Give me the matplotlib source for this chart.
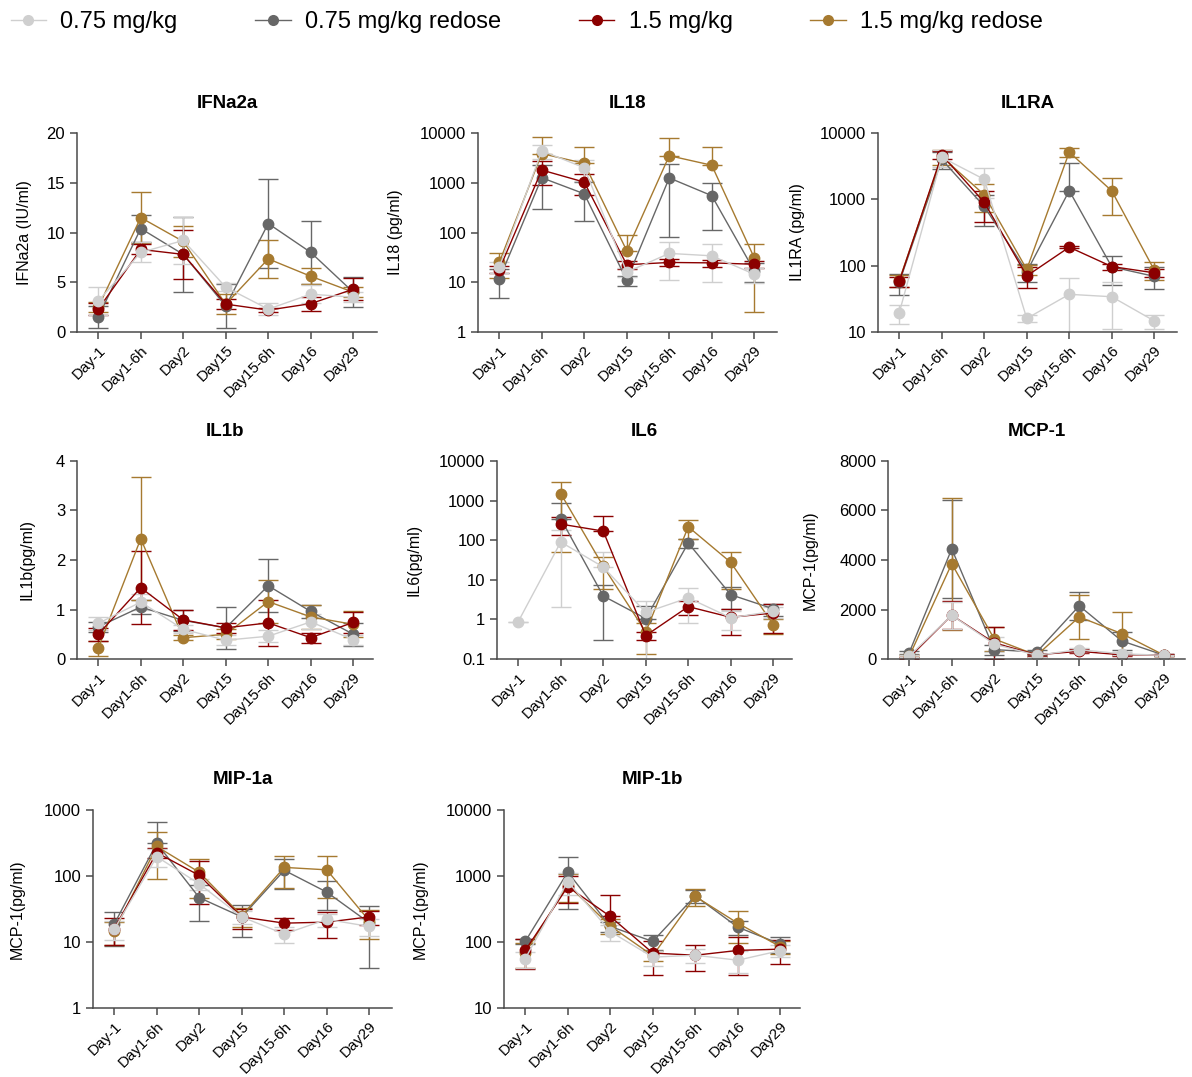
import numpy as np
import matplotlib
matplotlib.use("Agg")
import matplotlib.pyplot as plt
from matplotlib.lines import Line2D
from matplotlib.ticker import FixedLocator, NullLocator

plt.rcParams['font.family'] = ['Liberation Sans', 'DejaVu Sans']

days = ["Day-1", "Day1-6h", "Day2", "Day15", "Day15-6h", "Day16", "Day29"]
groups = ["0.75 mg/kg", "0.75 mg/kg redose", "1.5 mg/kg", "1.5 mg/kg redose"]
colors = ["#cfcfcf", "#676767", "#8b0000", "#a67a30"]
nan = np.nan

# mean / sd per group: [0.75, 0.75 redose, 1.5, 1.5 redose]
ifna2a_mean = [[3.1, 8.0, 9.2, 4.5, 2.3, 3.8, 3.5],
               [1.5, 10.4, 7.8, 2.6, 10.9, 8.0, 4.0],
               [2.3, 8.3, 7.8, 2.8, 2.2, 2.85, 4.3],
               [2.5, 11.5, 9.1, 2.8, 7.35, 5.6, 4.0]]
ifna2a_sd = [[1.4, 1.0, 2.4, 0.4, 0.6, 0.9, 0.5],
             [1.1, 1.4, 3.8, 2.2, 4.5, 3.2, 1.5],
             [0.6, 0.5, 2.5, 0.5, 0.2, 0.7, 1.1],
             [0.5, 2.6, 1.6, 1.0, 1.9, 0.8, 0.5]]

il18_mean = [[20, 4400, 2000, 16, 38, 34, 14.5],
             [11.5, 1260, 600, 11, 1250, 550, 17],
             [18, 1800, 1030, 22.5, 25, 24.5, 23],
             [25, 3850, 2450, 43, 3500, 2250, 31]]
il18_sd = [[5, 1400, 900, 3, 27, 24, 5],
           [6.7, 970, 430, 2.5, 1170, 440, 7],
           [3, 900, 450, 4, 4, 4, 4],
           [13, 4650, 2750, 45, 4300, 2950, 28.5]]

il1ra_mean = [[19.5, 4300, 2000, 16, 37, 34, 14.7],
              [56, 4000, 780, 81, 1350, 96, 69],
              [58, 4700, 900, 70, 190, 97, 78],
              [60, 4400, 1170, 88, 5150, 1340, 86]]
il1ra_sd = [[6.3, 1200, 950, 2, 28, 23, 3.5],
            [20, 1100, 380, 25, 2150, 45, 25],
            [10, 600, 450, 24, 5, 10, 10],
            [12, 1100, 530, 15, 800, 760, 26]]

il1b_mean = [[0.72, 1.15, 0.6, 0.38, 0.46, 0.75, 0.39],
             [0.65, 1.05, 0.78, 0.63, 1.48, 0.96, 0.5],
             [0.5, 1.44, 0.79, 0.63, 0.73, 0.43, 0.74],
             [0.22, 2.43, 0.43, 0.5, 1.16, 0.85, 0.7]]
il1b_sd = [[0.13, 0.17, 0.08, 0.1, 0.12, 0.15, 0.1],
           [0.1, 0.15, 0.22, 0.42, 0.54, 0.14, 0.23],
           [0.13, 0.74, 0.2, 0.1, 0.46, 0.1, 0.21],
           [0.15, 1.24, 0.05, 0.1, 0.44, 0.25, 0.26]]

il6_mean = [[0.88, 90, 21, 1.5, 3.5, 1.1, 1.6],
            [nan, 350, 3.9, 1.05, 85, 4.2, 1.85],
            [nan, 255, 170, 0.39, 2.1, 1.13, 1.45],
            [nan, 1500, 22, 0.48, 218, 27.5, 0.74]]
il6_sd = [[0, 88, 30, 1.4, 2.7, 0.55, 0.5],
          [nan, 500, 3.6, 1.1, 20, 2.4, 0.6],
          [nan, 120, 245, 0.08, 0.8, 0.73, 1.0],
          [nan, 1450, 16, 0.35, 110, 21.5, 0.3]]

mcp1_mean = [[120, 1770, 600, 150, 380, 210, 150],
             [260, 4450, 380, 280, 2150, 730, 150],
             [60, 1770, 650, 170, 310, 170, 170],
             [110, 3850, 810, 150, 1700, 1025, 150]]
mcp1_sd = [[50, 550, 300, 80, 80, 60, 30],
           [60, 1970, 200, 100, 560, 350, 40],
           [40, 560, 640, 50, 80, 40, 30],
           [40, 2670, 490, 60, 880, 875, 30]]

mip1a_mean = [[15.7, 196, 76, 24, 13.2, 22, 17.2],
              [18.7, 313, 47, 24, 122, 57, 19.5],
              [16, 226, 102, 24, 19.3, 20, 24],
              [14.5, 280, 114, 25, 135, 124, 21]]
mip1a_sd = [[5, 60, 15, 5, 3.6, 5, 5],
            [10, 335, 26, 12, 58, 26, 15.5],
            [7, 40, 65, 8, 4, 8.6, 6],
            [5.5, 190, 68, 8, 69, 77, 10]]

mip1b_mean = [[56, 824, 144, 59, 63, 53, 74],
              [102, 1145, 172, 102, 500, 168, 93],
              [74.5, 690, 244, 68, 63, 74.5, 78],
              [68, 736, 175, 62, 490, 193, 85]]
mip1b_sd = [[15, 300, 40, 15, 15, 19, 15],
            [10, 825, 30, 26, 116, 40, 24],
            [35, 300, 273, 36, 27, 43, 31],
            [28, 330, 45, 10, 135, 97, 20]]

panels = [
    ("IFNa2a", "IFNa2a (IU/ml)", ifna2a_mean, ifna2a_sd, "linear", (0, 20), [0, 5, 10, 15, 20]),
    ("IL18", "IL18 (pg/ml)", il18_mean, il18_sd, "log", (1, 10000), [1, 10, 100, 1000, 10000]),
    ("IL1RA", "IL1RA (pg/ml)", il1ra_mean, il1ra_sd, "log", (10, 10000), [10, 100, 1000, 10000]),
    ("IL1b", "IL1b(pg/ml)", il1b_mean, il1b_sd, "linear", (0, 4), [0, 1, 2, 3, 4]),
    ("IL6", "IL6(pg/ml)", il6_mean, il6_sd, "log", (0.1, 10000), [0.1, 1, 10, 100, 1000, 10000]),
    ("MCP-1", "MCP-1(pg/ml)", mcp1_mean, mcp1_sd, "linear", (0, 8000), [0, 2000, 4000, 6000, 8000]),
    ("MIP-1a", "MCP-1(pg/ml)", mip1a_mean, mip1a_sd, "log", (1, 1000), [1, 10, 100, 1000]),
    ("MIP-1b", "MCP-1(pg/ml)", mip1b_mean, mip1b_sd, "log", (10, 10000), [10, 100, 1000, 10000]),
]

# axes boxes in pixels: left, top, right, bottom ; ylabel x in axes fraction
boxes = [(77, 133, 377, 332, -0.15), (478, 133, 777, 332, -0.25), (878, 133, 1177, 332, -0.245),
         (77, 461, 373, 659, -0.145), (497, 461, 792, 659, -0.255), (888, 461, 1185, 659, -0.237),
         (93, 810, 392, 1008, -0.228), (504, 810, 800, 1008, -0.257)]

W, H = 1192, 1077
fig = plt.figure(figsize=(W / 100, H / 100), dpi=100)
spine_c = "#4a4a4a"
draw_order = [1, 3, 2, 0]
x = np.arange(len(days))

for (title, ylab, mean, sd, scale, ylim, yticks), (l, t, r, b, ylx) in zip(panels, boxes):
    ax = fig.add_axes([l / W, 1 - b / H, (r - l) / W, (b - t) / H])
    for g in draw_order:
        m = np.array(mean[g], dtype=float)
        s = np.array(sd[g], dtype=float)
        lo = s.copy()
        if scale == "log":
            lo = np.where(m - s <= 0, 0, s)
        ax.errorbar(x, m, yerr=[lo, s], fmt='-o', color=colors[g], ecolor=colors[g],
                    lw=1.0, elinewidth=1.0, capsize=7, capthick=1.0, markersize=7.5,
                    markeredgecolor=colors[g], markerfacecolor=colors[g])
    ax.set_yscale(scale)
    ax.set_ylim(*ylim)
    ax.set_xlim(-0.5, -0.5 + (r - l) / 42.5)
    ax.yaxis.set_major_locator(FixedLocator(yticks))
    ax.yaxis.set_minor_locator(NullLocator())
    ax.set_yticklabels([f"{v:g}" for v in yticks])
    ax.set_xticks(x)
    ax.set_xticklabels(days, rotation=45, ha='right', rotation_mode='anchor')
    for sp in ['top', 'right']:
        ax.spines[sp].set_visible(False)
    for sp in ['left', 'bottom']:
        ax.spines[sp].set_color(spine_c)
        ax.spines[sp].set_linewidth(1.1)
    ax.tick_params(axis='both', colors=spine_c, labelcolor='black',
                   length=5, width=1.1, direction='out')
    ax.tick_params(axis='y', labelsize=12)
    ax.tick_params(axis='x', labelsize=11, pad=3)
    ax.set_ylabel(ylab, fontsize=11.5)
    ax.yaxis.set_label_coords(ylx, 0.5)
    ax.text(0.5, 1 + 30 / (b - t), title, transform=ax.transAxes, ha='center', va='center',
            fontsize=13.5, fontweight='bold')

handles = [Line2D([0], [0], color=c, lw=1.0, marker='o', markersize=8, markeredgewidth=0)
           for c in colors]
fig.legend(handles, groups, loc='upper left', bbox_to_anchor=(-0.003, 1.003), ncol=4,
           frameon=False, fontsize=17, handlelength=1.5, handletextpad=0.6,
           columnspacing=3.3, borderaxespad=0.2)

fig.savefig("out.png", dpi=100)
